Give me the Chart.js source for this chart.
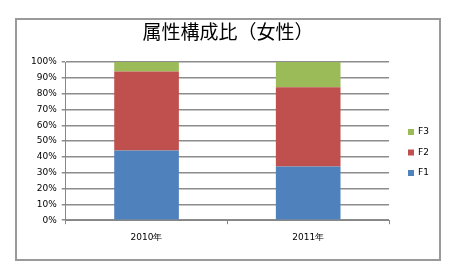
<!DOCTYPE html>
<html>
<head>
<meta charset="utf-8">
<script src="https://cdn.jsdelivr.net/npm/chart.js@4/dist/chart.umd.min.js"></script>
<style>
  html, body { margin: 0; padding: 0; background: #fff; }
  #wrap { width: 450px; height: 274px; position: relative; }
</style>
</head>
<body>
<div id="wrap"><canvas id="genderChart" width="450" height="274"></canvas></div>
<script>
// data
var years = ['2010年', '2011年'];
var f1 = [44, 34];
var f2 = [50, 50];
var f3 = [6, 16];
var title = '属性構成比（女性）';

var frameAndLegend = {
  id: 'frameAndLegend',
  beforeDraw: function(chart) {
    var ctx = chart.ctx;
    ctx.save();
    ctx.fillStyle = '#fff';
    ctx.fillRect(0, 0, chart.width, chart.height);
    ctx.restore();
  },
  afterDraw: function(chart) {
    var ctx = chart.ctx;
    ctx.save();
    // outer frame, drawn as filled strips
    ctx.fillStyle = '#9a9a9a';
    ctx.fillRect(15, 18, 426, 2);
    ctx.fillRect(15, 259, 426, 2);
    ctx.fillRect(15, 18, 2, 243);
    ctx.fillRect(439, 18, 2, 243);
    // title
    ctx.fillStyle = '#000';
    ctx.font = '19px "Noto Sans CJK JP"';
    ctx.textAlign = 'center';
    ctx.textBaseline = 'middle';
    ctx.fillText(title, 228, 32);
    // legend, reversed like the original
    ctx.font = '9px "DejaVu Sans"';
    ctx.textAlign = 'left';
    var ds = chart.data.datasets.slice().reverse();
    for (var i = 0; i < ds.length; i++) {
      var y = 132 + i * 20.5;
      ctx.fillStyle = ds[i].backgroundColor;
      ctx.fillRect(408, y - 3, 6, 6);
      ctx.fillStyle = '#000';
      ctx.fillText(ds[i].label, 418, y);
    }
    ctx.restore();
  }
};

new Chart(document.getElementById('genderChart'), {
  type: 'bar',
  data: {
    labels: years,
    datasets: [
      { label: 'F1', data: f1, backgroundColor: '#4F81BD' },
      { label: 'F2', data: f2, backgroundColor: '#C0504D' },
      { label: 'F3', data: f3, backgroundColor: '#9BBB59' }
    ]
  },
  options: {
    responsive: false,
    animation: false,
    barPercentage: 0.4,
    categoryPercentage: 1,
    layout: { padding: { left: 26, right: 61, top: 62, bottom: 23 } },
    plugins: {
      legend: { display: false },
      title: { display: false },
      tooltip: { enabled: false }
    },
    scales: {
      x: {
        stacked: true,
        grid: { drawOnChartArea: false, color: '#868686', tickLength: 4, offset: true },
        border: { color: '#868686', width: 1 },
        ticks: { color: '#000', font: { family: 'DejaVu Sans', size: 9 }, padding: 8 }
      },
      y: {
        stacked: true,
        min: 0,
        max: 100,
        grid: { color: '#8c8c8c', lineWidth: 1.5, tickLength: 4 },
        border: { color: '#868686', width: 1 },
        ticks: {
          stepSize: 10,
          color: '#000',
          font: { family: 'DejaVu Sans', size: 9 },
          padding: 5,
          callback: function(v) { return v + '%'; }
        }
      }
    }
  },
  plugins: [frameAndLegend]
});
</script>
</body>
</html>
